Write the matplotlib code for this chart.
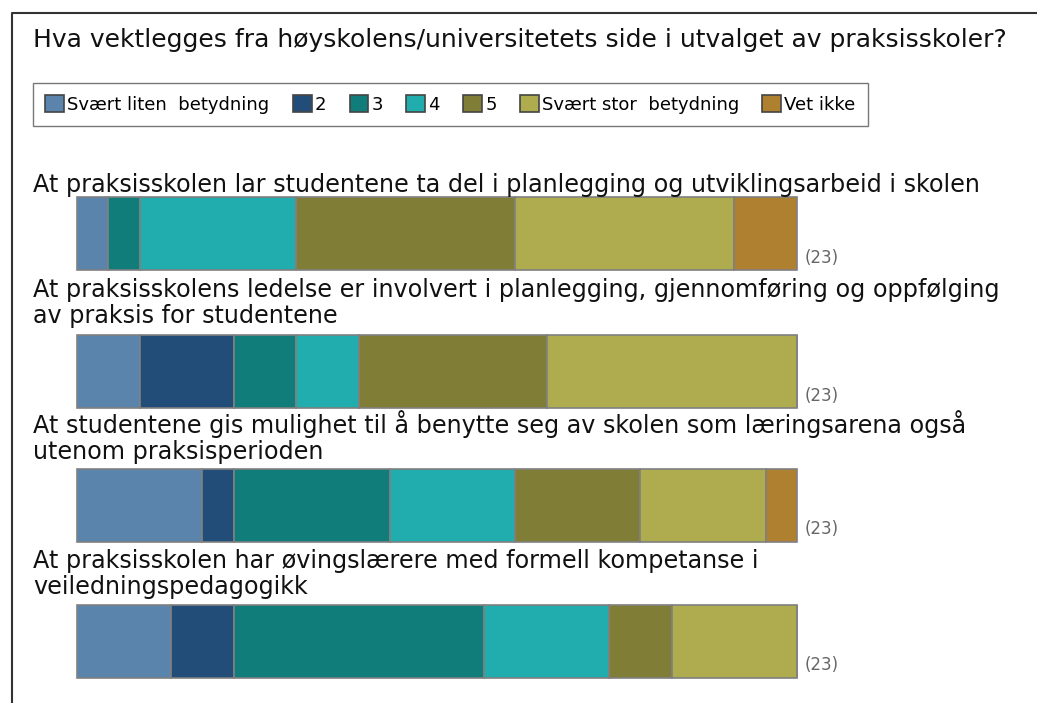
import numpy as np
import matplotlib.pyplot as plt
from matplotlib.lines import Line2D

W, H = 1037, 703

title = "Hva vektlegges fra høyskolens/universitetets side i utvalget av praksisskoler?"
categories = ["Svært liten  betydning", "2", "3", "4", "5", "Svært stor  betydning", "Vet ikke"]
colors = ["#5b84ad", "#224d79", "#107d7b", "#21adad", "#7f7d36", "#aeac4f", "#ae8030"]
questions = [
    ["At praksisskolen lar studentene ta del i planlegging og utviklingsarbeid i skolen"],
    ["At praksisskolens ledelse er involvert i planlegging, gjennomføring og oppfølging",
     "av praksis for studentene"],
    ["At studentene gis mulighet til å benytte seg av skolen som læringsarena også",
     "utenom praksisperioden"],
    ["At praksisskolen har øvingslærere med formell kompetanse i",
     "veiledningspedagogikk"],
]
# antall svar per kategori
counts = np.array([
    [1, 0, 1, 5, 7, 7, 2],
    [2, 3, 2, 2, 6, 8, 0],
    [4, 1, 5, 4, 4, 4, 1],
    [3, 2, 8, 4, 2, 4, 0],
])
n_labels = ["(23)", "(23)", "(23)", "(23)"]

# layout in pixels
bar_center = [233.5, 371.5, 505, 641]
bar_h = 73
label_base = [192, 297, 433, 568]
line_step = 26
x0, x1 = 77, 797

fig = plt.figure(figsize=(W / 100, H / 100), dpi=100)
fig.patch.set_facecolor("white")

def fx(px):
    return px / W

def fy(py):
    return 1 - py / H

ax = fig.add_axes([0, 0, 1, 1])
k = counts[0].sum() / (x1 - x0)
ax.set_xlim(-x0 * k, (W - x0) * k)
ax.set_ylim(H, 0)
ax.axis("off")

left = np.zeros(len(questions))
handles = []
for j, cat in enumerate(categories):
    b = ax.barh(bar_center, counts[:, j], left=left, height=bar_h, color=colors[j],
                edgecolor="#808080", linewidth=1.2, label=cat)
    handles.append(b)
    left += counts[:, j]

for i, lines in enumerate(questions):
    for m, line in enumerate(lines):
        fig.text(fx(33), fy(label_base[i] + m * line_step), line, fontsize=17.2,
                 color="#111111", va="baseline", ha="left")
    ax.text(left[i] + 8 * k, bar_center[i] + bar_h / 2 - 7, n_labels[i],
            fontsize=12, color="#666666", va="baseline", ha="left")

fig.text(fx(33), fy(47), title, fontsize=18, color="#111111", va="baseline", ha="left")

leg = fig.legend(handles=handles, labels=categories, loc="upper left",
                 bbox_to_anchor=(fx(33), fy(125), fx(868) - fx(33), fy(83) - fy(125)),
                 mode="expand", ncol=7, fontsize=13,
                 handlelength=1.05, handleheight=1.05, handletextpad=0.17,
                 columnspacing=1.0, borderpad=0.68, borderaxespad=0,
                 fancybox=False, frameon=True)
leg.get_frame().set_edgecolor("#555555")
leg.get_frame().set_linewidth(1.0)
for p in leg.get_patches():
    p.set_edgecolor("#444444")

# ytre ramme
fig.add_artist(Line2D([fx(12), fx(12), fx(W + 5)], [fy(H + 5), fy(12.5), fy(12.5)],
                      color="#333333", linewidth=1.5, transform=fig.transFigure))

fig.savefig("out.png", dpi=100)
